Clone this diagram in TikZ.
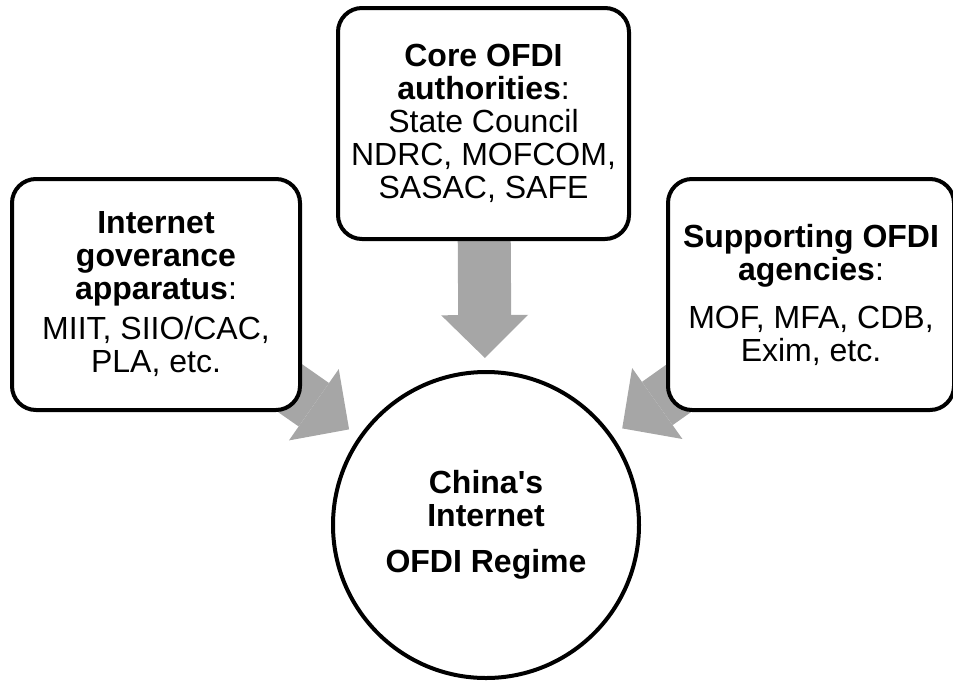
\documentclass[tikz,border=0pt]{standalone}
\usepackage{fontspec}
\newfontfamily\lsans{Liberation Sans}
\usetikzlibrary{arrows.meta,calc,backgrounds}
\definecolor{arrowgray}{RGB}{166,166,166}
\tikzset{
  boxnode/.style={draw=black, line width=4pt, fill=white, rounded corners=24pt,
    inner sep=0pt, align=center, font=\lsans\fontsize{32}{33}\selectfont},
  hubnode/.style={draw=black, line width=4pt, fill=white, circle, inner sep=0pt,
    minimum size=306pt, align=center, font=\lsans\fontsize{32}{33}\selectfont},
  bigarrow/.style={draw=arrowgray, line width=53pt,
    -{Triangle[width=87pt,length=43pt,line width=0pt]}}
}
\begin{document}
\begin{tikzpicture}[x=1pt,y=-1pt]
\useasboundingbox (0,0) rectangle (953,681);
\node[boxnode, minimum width=288pt, minimum height=231pt] (left) at (156,294.5)
  {\textbf{Internet}\\\textbf{goverance}\\\textbf{apparatus}:\\[7pt]MIIT, SIIO/CAC,\\PLA, etc.};
\node[boxnode, minimum width=291pt, minimum height=231pt] (core) at (483.5,123.5)
  {\textbf{Core OFDI}\\\textbf{authorities}:\\State Council\\NDRC, MOFCOM,\\SASAC, SAFE};
\node[boxnode, minimum width=286pt, minimum height=231pt] (right) at (811,294.5)
  {\textbf{Supporting OFDI}\\\textbf{agencies}:\\[15pt]MOF, MFA, CDB,\\Exim, etc.};
\node[hubnode] (hub) at (486,525)
  {\textbf{China's}\\\textbf{Internet}\\[13pt]\textbf{OFDI Regime}};
\coordinate (tipL) at ($(hub.center)!167pt!(left.center)$);
\coordinate (tipC) at ($(hub.center)!167pt!(core.center)$);
\coordinate (tipR) at ($(hub.center)!167pt!(right.center)$);
\begin{scope}[on background layer]
  \draw[bigarrow] (left.center) -- (tipL);
  \draw[bigarrow] (core.center) -- (tipC);
  \draw[bigarrow] (right.center) -- (tipR);
\end{scope}
\end{tikzpicture}
\end{document}
